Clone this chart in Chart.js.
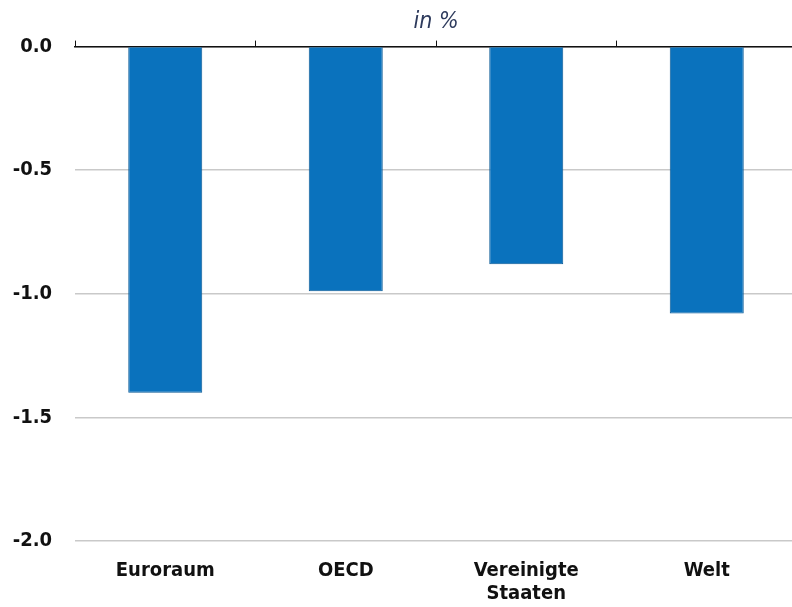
<!DOCTYPE html>
<html>
<head>
<meta charset="utf-8">
<script src="https://cdn.jsdelivr.net/npm/chart.js@4.4.1/dist/chart.umd.min.js"></script>
<style>
  html, body { margin: 0; padding: 0; overflow: hidden; background: #fff; }
  #chart { display: block; }
</style>
</head>
<body>
<canvas id="chart" width="797" height="607"></canvas>
<script>
// Data
const categories = ["Euroraum", "OECD", ["Vereinigte", "Staaten"], "Welt"];
const values = [-1.40, -0.99, -0.88, -1.08];
const yTicks = [0, -0.5, -1.0, -1.5, -2.0];
const subtitleText = "in %";

const narrow = "'Liberation Sans Narrow', 'Arial Narrow', 'DejaVu Sans Condensed', sans-serif";
const labelFont = { family: narrow, size: 20, weight: "bold", lineHeight: 1.15 };

document.addEventListener("DOMContentLoaded", () => {
    const ctx = document.getElementById("chart");
    new Chart(ctx, {
        type: "bar",
        data: {
            labels: categories,
            datasets: [
                {
                    data: values,
                    backgroundColor: "#0a72bd",
                    borderColor: "#0a5a96",
                    borderWidth: 1,
                    barPercentage: 0.41,
                    categoryPercentage: 1,
                    xAxisID: "x",
                },
            ],
        },
        options: {
            responsive: false,
            animation: false,
            layout: { padding: 0 },
            plugins: {
                legend: { display: false },
                tooltip: { enabled: false },
                title: { display: false },
                subtitle: {
                    display: true,
                    fullSize: false,
                    text: subtitleText,
                    color: "#2d3a5c",
                    font: { family: narrow, size: 23, style: "italic", lineHeight: 1.2 },
                    padding: { top: 8, bottom: 5 },
                },
            },
            scales: {
                x: {
                    position: "bottom",
                    grid: { display: false },
                    border: { display: false },
                    ticks: { color: "#111", font: labelFont, padding: 10, maxRotation: 0, autoSkip: false },
                    afterFit: (scale) => { scale.height = 66; },
                },
                xTop: {
                    type: "category",
                    labels: categories,
                    position: "top",
                    offset: true,
                    grid: { drawOnChartArea: false, drawTicks: true, tickLength: 6, color: "#111", lineWidth: 1, offset: true },
                    border: { display: true, color: "#111", width: 1.5 },
                    ticks: { display: false },
                    afterFit: (scale) => { scale.height = 6; },
                },
                y: {
                    min: -2,
                    max: 0,
                    afterBuildTicks: (scale) => { scale.ticks = yTicks.map((v) => ({ value: v })); },
                    grid: { color: "#c9c9c9", lineWidth: 1.5, drawTicks: false },
                    border: { display: false },
                    ticks: {
                        color: "#111",
                        font: labelFont,
                        padding: 23,
                        callback: (v) => Number(v).toFixed(1),
                    },
                    afterFit: (scale) => { scale.width = 75; },
                },
            },
        },
    });
});
</script>
</body>
</html>
